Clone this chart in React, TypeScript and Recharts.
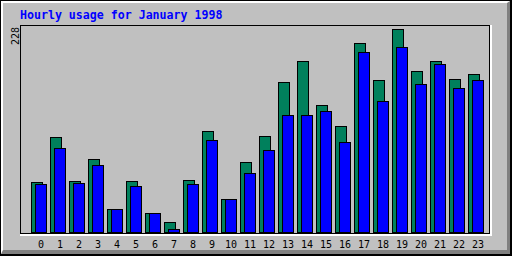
import { BarChart, Bar, XAxis, YAxis } from "recharts";

const hours = [
  "0", "1", "2", "3", "4", "5", "6", "7", "8", "9", "10", "11",
  "12", "13", "14", "15", "16", "17", "18", "19", "20", "21", "22", "23",
];
const hits = [57, 107, 58, 83, 27, 58, 22, 12, 59, 114, 38, 79, 108, 169, 192, 143, 120, 212, 171, 228, 181, 192, 172, 178];
const files = [55, 95, 56, 76, 27, 53, 22, 4, 55, 104, 38, 67, 93, 132, 132, 136, 102, 202, 148, 208, 167, 189, 162, 171];
const yTicks = [228];

const data = hours.map((h, i) => ({ hour: h, hits: hits[i], files: files[i] }));

const MONO = "'DejaVu Sans Mono', monospace";

// crisp 1px black outline like the old GD-drawn bars
const CrispBar = (props: any) => {
  const { x, y, width, height, fill } = props;
  if (!height || height <= 0) return null;
  const top = Math.round(y);
  const bottom = Math.round(y + height);
  return (
    <rect
      x={Math.round(x) + 0.5}
      y={top + 0.5}
      width={Math.round(width) - 1}
      height={bottom - top - 1}
      fill={fill}
      stroke="#000"
      strokeWidth={1}
    />
  );
};

const HourTick = ({ x, y, payload }: any) => (
  <text x={x + 2.5} y={y + 15} textAnchor="middle" fontFamily={MONO} fontSize={10} fill="#000">
    {payload.value}
  </text>
);

const MaxTick = ({ x, y, payload }: any) => (
  <text
    x={x - 10}
    y={y - 2}
    transform={`rotate(-90, ${x - 10}, ${y - 2})`}
    textAnchor="end"
    fontFamily={MONO}
    fontSize={10}
    fill="#000"
  >
    {payload.value}
  </text>
);

export default function App() {
  return (
    <div style={{ position: "absolute", left: 0, top: 0, width: 512, height: 256, background: "#C0C0C0", overflow: "hidden" }}>
      {/* outer bevel */}
      <div
        style={{
          position: "absolute", inset: 0, boxSizing: "border-box",
          borderTop: "1px solid #000", borderLeft: "1px solid #000",
          borderRight: "2px solid #000", borderBottom: "2px solid #000",
        }}
      />
      <div
        style={{
          position: "absolute", left: 1, top: 1, right: 2, bottom: 2, boxSizing: "border-box",
          borderTop: "2px solid #fff", borderLeft: "2px solid #fff",
          borderRight: "3px solid #808080", borderBottom: "4px solid #808080",
        }}
      />
      {/* plot frame */}
      <div
        style={{
          position: "absolute", left: 20, top: 25, width: 472, height: 211, boxSizing: "border-box",
          borderRight: "2px solid #fff", borderBottom: "2px solid #fff",
        }}
      >
        <div style={{ width: 470, height: 209, boxSizing: "border-box", border: "1px solid #000" }} />
      </div>
      <div
        style={{
          position: "absolute", left: 20, top: 9, lineHeight: "12px",
          fontFamily: MONO, fontSize: 11.6, fontWeight: "bold", color: "#0000FF", whiteSpace: "nowrap",
        }}
      >
        Hourly usage for January 1998
      </div>
      <div style={{ position: "absolute", left: 0, top: 0 }}>
        <BarChart
          width={512}
          height={256}
          data={data}
          margin={{ top: 29, right: 27, left: 0, bottom: 0 }}
          barSize={12}
          barGap={-8}
        >
          <XAxis
            dataKey="hour"
            height={23}
            axisLine={false}
            tickLine={false}
            tickSize={0}
            tickMargin={0}
            interval={0}
            tick={<HourTick />}
          />
          <YAxis
            width={29}
            domain={[0, 228]}
            ticks={yTicks}
            axisLine={false}
            tickLine={false}
            tickSize={0}
            tickMargin={0}
            tick={<MaxTick />}
          />
          <Bar dataKey="hits" fill="#00805C" shape={<CrispBar />} isAnimationActive={false} />
          <Bar dataKey="files" fill="#0000FF" shape={<CrispBar />} isAnimationActive={false} />
        </BarChart>
      </div>
    </div>
  );
}
